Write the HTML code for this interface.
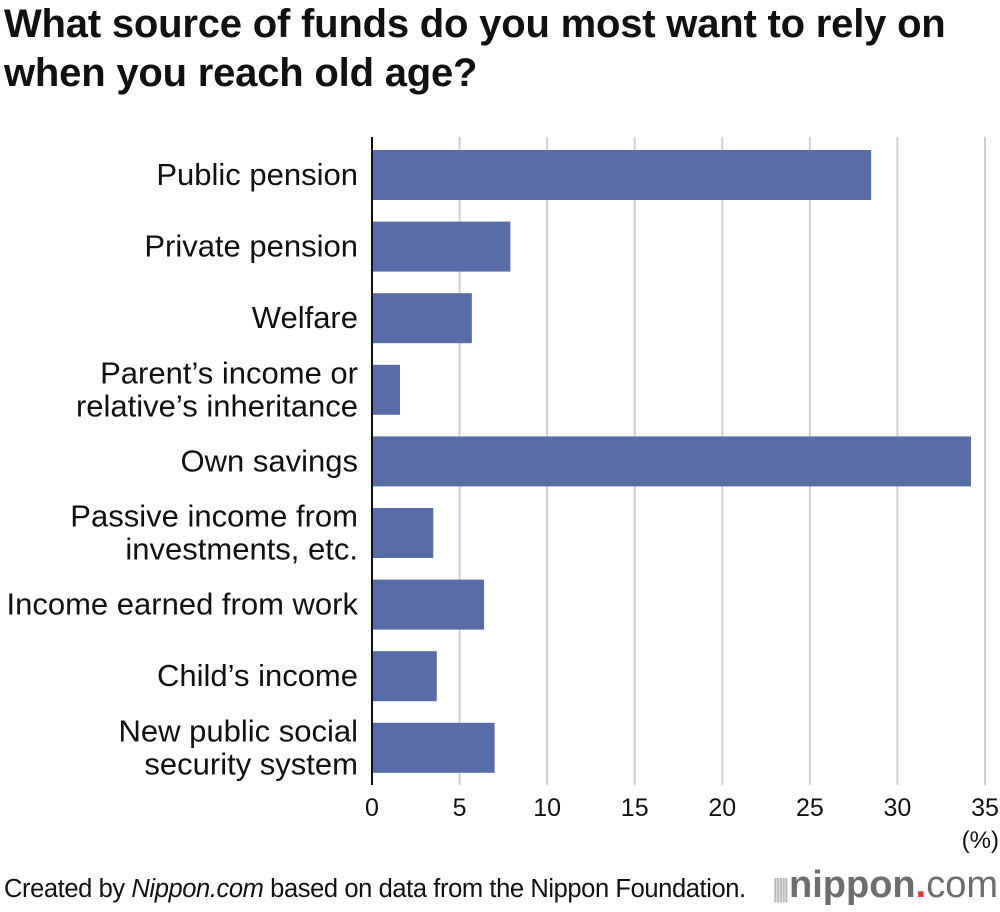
<!DOCTYPE html>
<html><head><meta charset="utf-8"><style>
body{margin:0;width:1000px;height:912px;background:#fff;font-family:"Liberation Sans",Arial,sans-serif;overflow:hidden}
h1{position:absolute;left:4px;top:0px;margin:0;font-size:40px;line-height:49px;font-weight:bold;color:#111;width:975px;letter-spacing:-0.2px}
#foot{position:absolute;left:4px;top:875px;font-size:25.5px;color:#111;white-space:nowrap;letter-spacing:-0.4px}
#logo{position:absolute;left:772px;top:864px;font-size:38px;font-weight:bold;color:#6d6d6d;white-space:nowrap}
</style></head><body>
<h1>What source of funds do you most want to rely on<br>when you reach old age?</h1>
<svg id="chart" width="1000" height="912" style="position:absolute;left:0;top:0"></svg>
<div id="foot">Created by <i>Nippon.com</i> based on data from the Nippon Foundation.</div>
<div id="logo"><span style="font-weight:normal;color:#bbb;font-size:26px;letter-spacing:-4px">||||| </span> nippon<span style="color:#e5322d">.</span><span style="font-weight:normal">com</span></div>
<script>
const categories=["Public pension","Private pension","Welfare","Parent’s income or|relative’s inheritance","Own savings","Passive income from|investments, etc.","Income earned from work","Child’s income","New public social|security system"];
const values=[28.5,7.9,5.7,1.6,34.2,3.5,6.4,3.7,7.0];
const ticks=[0,5,10,15,20,25,30,35];
const svg=document.getElementById('chart');
const NS='http://www.w3.org/2000/svg';
const x0=372,x1=985,xmax=35,top0=150,step=71.6,bh=50;
const xs=v=>x0+(x1-x0)*v/xmax;
function mk(t,a){const e=document.createElementNS(NS,t);for(const k in a)e.setAttribute(k,a[k]);svg.appendChild(e);return e;}
ticks.forEach(t=>{
 if(t>0){const g=mk('line',{x1:xs(t),x2:xs(t),y1:137,y2:785,stroke:'#d0d0d0','stroke-width':2});
 
 }
 const l=mk('text',{x:xs(t),y:816,'text-anchor':'middle','font-size':25,fill:'#111'});l.textContent=t;
 
 
});
const u=mk('text',{x:999,y:848,'text-anchor':'end','font-size':24,fill:'#111'});u.textContent='(%)';


values.forEach((v,i)=>{
 const y=top0+i*step;
 const r=mk('rect',{x:x0,y:y,width:xs(v)-x0,height:bh,fill:'#586ca7'});
 
 
 const lines=categories[i].split('|');
 lines.forEach((ln,j)=>{
  const ty=y+bh/2+10+(lines.length>1?(j-0.5)*33:0);
  const t=mk('text',{x:358,y:ty,'text-anchor':'end','font-size':31,fill:'#111'});t.textContent=ln;
  
  
 });
});
const ax=mk('line',{x1:x0,x2:x0,y1:137,y2:785,stroke:'#111','stroke-width':2});


</script>
</body></html>
